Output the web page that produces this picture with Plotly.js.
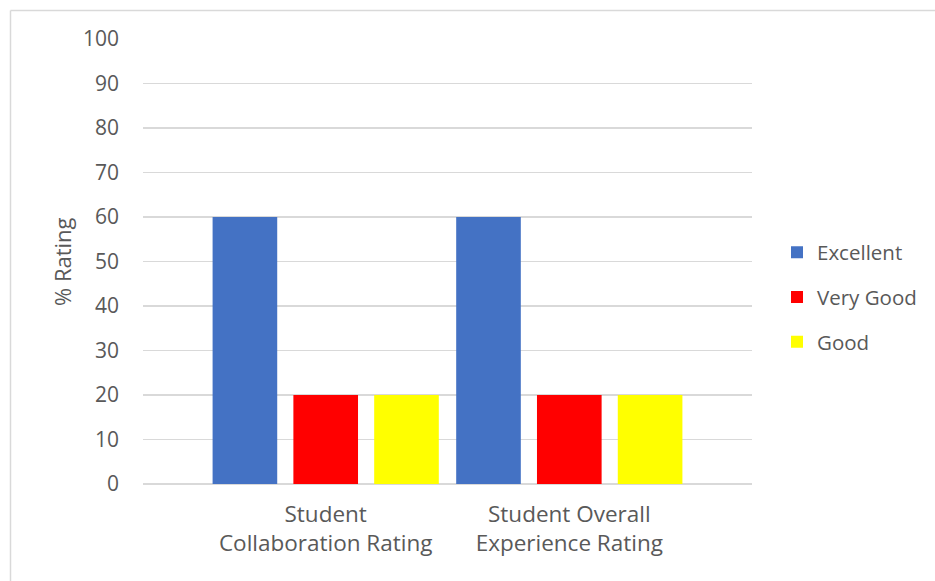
<!DOCTYPE html>
<html>
<head>
<meta charset="utf-8">
<script src="https://cdn.plot.ly/plotly-3.0.1.min.js"></script>
<style>
  html, body { margin: 0; padding: 0; background: #fff; }
  #chart { width: 935px; height: 581px; }
</style>
</head>
<body>
<div id="chart"></div>
<script>
// Survey ratings per question, in percent
const categories = ["Student<br>Collaboration Rating", "Student Overall<br>Experience Rating"];
const excellent = [60, 60];
const veryGood = [20, 20];
const good = [20, 20];
const seriesNames = ["Excellent", "Very Good", "Good"];
const yTicks = [0, 10, 20, 30, 40, 50, 60, 70, 80, 90, 100];

const colors = ["#4472C4", "#FF0000", "#FFFF00"];
const values = [excellent, veryGood, good];
const textColor = "#595959";
const fontFamily = "'Open Sans', 'Noto Sans', sans-serif";

const traces = values.map((v, i) => ({
  type: "bar",
  name: seriesNames[i],
  x: [0, 1],
  y: v,
  marker: { color: colors[i], line: { width: 0 } },
  legendgroup: "g" + i,
  hoverinfo: "skip"
}));

// plot area in pixels
const L = 143, R = 752, T = 39, B = 484, W = 935, H = 581;
const pw = R - L, ph = B - T;
const px = x => (x - L) / pw;
const py = y => (B - y) / ph;

const layout = {
  width: W,
  height: H,
  margin: { l: L, r: W - R, t: T, b: H - B, pad: 0 },
  paper_bgcolor: "#ffffff",
  plot_bgcolor: "#ffffff",
  font: { family: fontFamily, color: textColor, size: 20 },
  barmode: "group",
  bargap: 0.005,
  bargroupgap: 0.2,
  showlegend: true,
  legend: {
    x: px(777), xanchor: "left",
    y: py(297), yanchor: "middle",
    font: { size: 20.5, color: textColor, family: fontFamily },
    tracegroupgap: 15,
    itemwidth: 30,
    bgcolor: "rgba(0,0,0,0)"
  },
  xaxis: {
    range: [-0.75, 1.75],
    tickmode: "array",
    tickvals: [0, 1],
    ticktext: categories,
    showgrid: false,
    zeroline: false,
    showline: false,
    ticks: "",
    ticklabelstandoff: 14,
    tickfont: { size: 22.5, color: textColor, family: fontFamily },
    fixedrange: true
  },
  yaxis: {
    range: [0, 100],
    tickmode: "array",
    tickvals: yTicks,
    ticktext: yTicks.map(String),
    showgrid: true,
    gridcolor: "#D9D9D9",
    gridwidth: 1.3,
    zeroline: true,
    zerolinecolor: "#D9D9D9",
    zerolinewidth: 1.3,
    showline: false,
    ticks: "",
    ticklabelstandoff: 23,
    tickfont: { size: 21, color: textColor, family: fontFamily },
    fixedrange: true
  },
  annotations: [{
    text: "% Rating",
    xref: "paper", yref: "paper",
    x: px(62), y: py(262),
    xanchor: "center", yanchor: "middle",
    textangle: -90,
    showarrow: false,
    font: { size: 22, color: textColor, family: fontFamily }
  }],
  shapes: [
    { type: "line", xref: "paper", yref: "paper",
      x0: px(10.5), x1: px(10.5), y0: py(10.5), y1: py(H + 2),
      line: { color: "#D9D9D9", width: 1.5 } },
    { type: "line", xref: "paper", yref: "paper",
      x0: px(10.5), x1: px(W + 2), y0: py(10.5), y1: py(10.5),
      line: { color: "#D9D9D9", width: 1.5 } }
  ]
};

Plotly.newPlot("chart", traces, layout, { displayModeBar: false, staticPlot: true });
</script>
</body>
</html>
